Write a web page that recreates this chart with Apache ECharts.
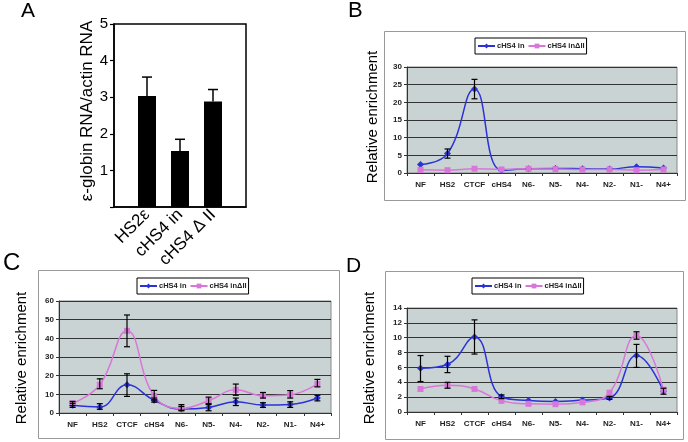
<!DOCTYPE html>
<html><head><meta charset="utf-8">
<script src="https://cdn.jsdelivr.net/npm/echarts@6/dist/echarts.min.js"></script>
<style>html,body{margin:0;padding:0;background:#fff}#c{width:688px;height:442px}</style>
</head><body><div id="c"></div>
<script>
// Panel A
const aCategories = ['HS2ε', 'cHS4 in', 'cHS4 Δ II'];
const aValues = [3.03, 1.53, 2.88];
const aErrHigh = [3.55, 1.85, 3.21];
const aTicks = [0, 1, 2, 3, 4, 5];

// Panels B-D
const categories = ['NF', 'HS2', 'CTCF', 'cHS4', 'N6-', 'N5-', 'N4-', 'N2-', 'N1-', 'N4+'];
const seriesNames = ['cHS4 in', 'cHS4 inΔII'];

const bIn = [2.4, 5.5, 23.8, 0.8, 1.2, 1.3, 1.2, 1.1, 1.8, 1.4];
const bDel = [0.9, 0.8, 1.2, 1.0, 1.2, 1.1, 1.0, 1.0, 0.8, 1.0];
const bInLow = [null, 4.2, 21.0, null, null, null, null, null, null, null];
const bInHigh = [null, 6.8, 26.5, null, null, null, null, null, null, null];

const cIn = [4.1, 3.2, 15.1, 6.8, 2.1, 3.0, 6.0, 4.3, 4.6, 8.0];
const cDel = [5.2, 15.1, 44.0, 9.1, 2.5, 6.6, 12.4, 9.2, 9.8, 15.6];
const cInLow = [3.0, 2.0, 8.9, 5.8, 1.2, 1.2, 4.0, 3.0, 3.0, 6.5];
const cInHigh = [5.2, 5.0, 21.0, 8.0, 3.5, 5.0, 8.0, 5.5, 6.0, 9.5];
const cDelLow = [4.0, 13.0, 35.5, 7.0, 1.5, 4.5, 9.5, 8.0, 8.0, 14.0];
const cDelHigh = [6.2, 18.3, 52.5, 12.1, 4.5, 8.5, 15.5, 11.0, 12.0, 18.0];

const dIn = [5.9, 6.4, 10.1, 2.05, 1.55, 1.4, 1.6, 1.9, 7.6, 2.8];
const dDel = [3.1, 3.6, 3.1, 1.5, 1.1, 1.05, 1.3, 2.6, 10.3, 3.0];
const dInLow = [4.1, 5.3, 7.8, 1.8, null, null, null, 1.7, 6.0, 2.4];
const dInHigh = [7.6, 7.5, 12.4, 2.3, null, null, null, 2.1, 9.1, 3.2];
const dDelLow = [null, 3.2, null, null, null, null, null, null, 9.8, null];
const dDelHigh = [null, 4.0, null, null, null, null, null, null, 10.8, null];

const BLUE = '#2b32d8';
const PINK = '#d977d9';
const FONT = '"Liberation Sans", Arial, sans-serif';

function errData(lo, hi) {
  const out = [];
  lo.forEach((v, i) => { if (v != null && hi[i] != null) out.push([i, v, hi[i]]); });
  return out;
}
function errSeries(idx, data, capOnlyTop) {
  return {
    type: 'custom', xAxisIndex: idx, yAxisIndex: idx, z: 10, silent: true,
    encode: { x: 0, y: [1, 2] },
    data: data,
    renderItem: function (params, api) {
      const x = api.value(0), lo = api.value(1), hi = api.value(2);
      const p1 = api.coord([x, hi]), p2 = api.coord([x, lo]);
      const w = capOnlyTop ? 5 : 3;
      const st = { stroke: '#000', lineWidth: capOnlyTop ? 1.5 : 1.2 };
      const ch = [
        { type: 'line', shape: { x1: p1[0], y1: p1[1], x2: p2[0], y2: p2[1] }, style: st },
        { type: 'line', shape: { x1: p1[0] - w, y1: p1[1], x2: p1[0] + w, y2: p1[1] }, style: st }
      ];
      if (!capOnlyTop) ch.push({ type: 'line', shape: { x1: p2[0] - w, y1: p2[1], x2: p2[0] + w, y2: p2[1] }, style: st });
      return { type: 'group', children: ch };
    }
  };
}
function lineSeries(idx, name, data, color, symbol) {
  return {
    type: 'line', name: name, xAxisIndex: idx, yAxisIndex: idx, data: data,
    smooth: 0.45, symbol: symbol, symbolSize: symbol === 'rect' ? 6 : 7,
    lineStyle: { color: color, width: 1.5 }, itemStyle: { color: color }, z: 5
  };
}
function panelX(idx) {
  return {
    type: 'category', gridIndex: idx, data: categories, boundaryGap: true,
    axisLine: { lineStyle: { color: '#333', width: 1 } },
    axisTick: { show: true, length: 3, lineStyle: { color: '#333' } },
    axisLabel: { interval: 0, fontSize: 8, fontWeight: 'bold', color: '#222', fontFamily: FONT, margin: 8 }
  };
}
function panelY(idx, max, interval) {
  return {
    type: 'value', gridIndex: idx, min: 0, max: max, interval: interval,
    axisLine: { show: true, lineStyle: { color: '#333', width: 1 } },
    axisTick: { show: true, length: 3, lineStyle: { color: '#333' } },
    axisLabel: { fontSize: 8, fontWeight: 'bold', color: '#222', fontFamily: FONT, margin: 5 },
    splitLine: { show: true, lineStyle: { color: '#333', width: 1 } }
  };
}
function legendAt(left, top) {
  return {
    left: left, top: top, data: seriesNames, orient: 'horizontal',
    borderColor: '#000', borderWidth: 1, padding: [4, 2], itemGap: 3,
    itemWidth: 17, itemHeight: 6, selectedMode: false,
    textStyle: { fontSize: 7.5, fontWeight: 'bold', color: '#222', fontFamily: FONT, padding: [0, 0, 0, -3] }
  };
}

const aCatsPadded = [''].concat(aCategories).concat(['']);
const aValsPadded = [null].concat(aValues).concat([null]);

const option = {
  animation: false,
  backgroundColor: '#fff',
  textStyle: { fontFamily: FONT },
  grid: [
    { left: 114, top: 24, width: 132, height: 183, show: true, borderColor: '#000', borderWidth: 1.5, backgroundColor: 'transparent' },
    { left: 407, top: 67, width: 270, height: 106, show: true, borderColor: '#888', borderWidth: 1, backgroundColor: '#c9d3d3' },
    { left: 59, top: 301, width: 272, height: 112, show: true, borderColor: '#888', borderWidth: 1, backgroundColor: '#c9d3d3' },
    { left: 407, top: 308, width: 270, height: 104, show: true, borderColor: '#888', borderWidth: 1, backgroundColor: '#c9d3d3' }
  ],
  xAxis: [
    {
      type: 'category', gridIndex: 0, data: aCatsPadded, boundaryGap: false,
      axisLine: { lineStyle: { color: '#000', width: 1.5 } }, axisTick: { show: false },
      axisLabel: { rotate: 45, fontSize: 17, color: '#000', fontFamily: FONT, margin: 5, interval: 0 }
    },
    panelX(1), panelX(2), panelX(3)
  ],
  yAxis: [
    {
      type: 'value', gridIndex: 0, min: aTicks[0], max: aTicks[aTicks.length - 1], interval: 1,
      axisLine: { show: true, lineStyle: { color: '#000', width: 1.5 } },
      axisTick: { show: true, length: 4, lineStyle: { color: '#000', width: 1.2 } },
      axisLabel: { fontSize: 15, color: '#000', fontFamily: FONT, margin: 6, formatter: v => (v === 0 ? '' : String(v)) },
      splitLine: { show: false }
    },
    panelY(1, 30, 5), panelY(2, 60, 10), panelY(3, 14, 2)
  ],
  legend: [legendAt(475, 38), legendAt(137, 278), legendAt(472, 278)],
  graphic: [
    { type: 'rect', shape: { x: 384.5, y: 31.5, width: 301, height: 169 }, style: { fill: 'none', stroke: '#999', lineWidth: 1 }, z: -1 },
    { type: 'rect', shape: { x: 38.5, y: 270.5, width: 301, height: 168 }, style: { fill: 'none', stroke: '#999', lineWidth: 1 }, z: -1 },
    { type: 'rect', shape: { x: 385.5, y: 271.5, width: 298, height: 168 }, style: { fill: 'none', stroke: '#999', lineWidth: 1 }, z: -1 },
    { type: 'text', left: 21, top: 1, style: { text: 'A', fontSize: 21, fill: '#000', fontFamily: FONT } },
    { type: 'text', left: 348, top: 0, style: { text: 'B', fontSize: 22, fill: '#000', fontFamily: FONT } },
    { type: 'text', left: 3, top: 251, style: { text: 'C', fontSize: 24, fill: '#000', fontFamily: FONT } },
    { type: 'text', left: 346, top: 256, style: { text: 'D', fontSize: 21, fill: '#000', fontFamily: FONT } },
    { type: 'text', x: 87, y: 111, rotation: Math.PI / 2, style: { text: 'ε-globin RNA/actin RNA', fontSize: 17, fill: '#000', fontFamily: FONT, align: 'center', verticalAlign: 'middle' } },
    { type: 'text', x: 373, y: 117, rotation: Math.PI / 2, style: { text: 'Relative enrichment', fontSize: 15, fill: '#000', fontFamily: FONT, align: 'center', verticalAlign: 'middle' } },
    { type: 'text', x: 22, y: 358, rotation: Math.PI / 2, style: { text: 'Relative enrichment', fontSize: 15, fill: '#000', fontFamily: FONT, align: 'center', verticalAlign: 'middle' } },
    { type: 'text', x: 370, y: 358, rotation: Math.PI / 2, style: { text: 'Relative enrichment', fontSize: 15, fill: '#000', fontFamily: FONT, align: 'center', verticalAlign: 'middle' } }
  ],
  series: [
    { type: 'bar', xAxisIndex: 0, yAxisIndex: 0, data: aValsPadded, barWidth: 18, itemStyle: { color: '#000' } },
    errSeries(0, aErrHigh.map((h, i) => [i + 1, aValues[i], h]), true),

    lineSeries(1, seriesNames[0], bIn, BLUE, 'diamond'),
    lineSeries(1, seriesNames[1], bDel, PINK, 'rect'),
    errSeries(1, errData(bInLow, bInHigh)),

    lineSeries(2, seriesNames[0], cIn, BLUE, 'diamond'),
    lineSeries(2, seriesNames[1], cDel, PINK, 'rect'),
    errSeries(2, errData(cInLow, cInHigh)),
    errSeries(2, errData(cDelLow, cDelHigh)),

    lineSeries(3, seriesNames[0], dIn, BLUE, 'diamond'),
    lineSeries(3, seriesNames[1], dDel, PINK, 'rect'),
    errSeries(3, errData(dInLow, dInHigh)),
    errSeries(3, errData(dDelLow, dDelHigh))
  ]
};
echarts.init(document.getElementById('c'), null, { renderer: 'canvas' }).setOption(option);
</script></body></html>
